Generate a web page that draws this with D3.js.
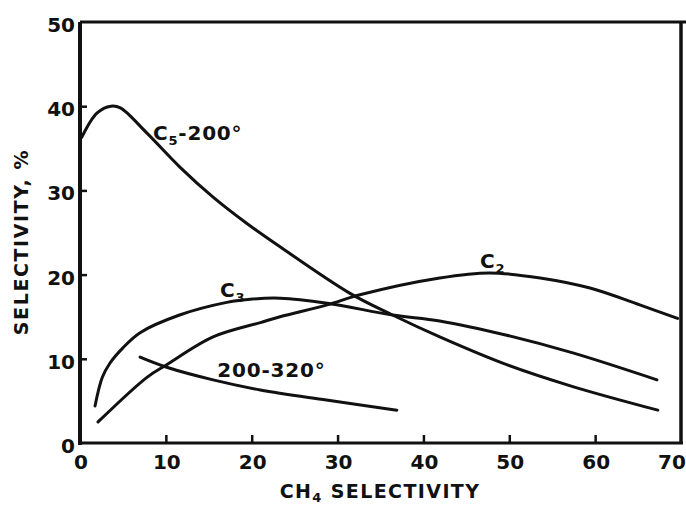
<!DOCTYPE html>
<html>
<head>
<meta charset="utf-8">
<script src="https://cdn.jsdelivr.net/npm/d3@7"></script>
<style>
  html, body { margin: 0; padding: 0; background: #fff; }
  svg { display: block; }
  text { font-family: "DejaVu Sans", sans-serif; font-weight: bold; fill: #111; }
</style>
</head>
<body>
<svg id="chart" width="686" height="506"></svg>
<script>
// CH4 selectivity (x) against product selectivity, % (y)
const xTicks = [0, 10, 20, 30, 40, 50, 60, 70];
const yTicks = [0, 10, 20, 30, 40, 50];

// C5–200° fraction
const c5X = [0.2, 2.0, 3.6, 4.7, 7.8, 11.6, 15.5, 19.4, 23.3, 31.4, 36.4, 41.9, 49.7, 57.4, 67.3];
const c5Y = [36.3, 39.2, 40.0, 39.8, 36.8, 32.8, 29.2, 26.1, 23.3, 17.8, 15.2, 12.6, 9.3, 6.7, 3.9];

// C3 hydrocarbons
const c3X = [1.75, 2.6, 3.5, 5.0, 7.0, 11.6, 17.1, 20.1, 23.3, 28.8, 36.4, 41.9, 49.7, 57.4, 67.2];
const c3Y = [4.4, 7.8, 9.5, 11.3, 13.1, 15.2, 16.7, 17.1, 17.2, 16.6, 15.2, 14.5, 12.8, 10.7, 7.5];

// C2 hydrocarbons
const c2X = [2.1, 7.8, 10.1, 15.5, 21.0, 23.3, 28.8, 32.6, 41.9, 47.7, 53.6, 59.4, 65.2, 69.6];
const c2Y = [2.5, 7.8, 9.3, 12.6, 14.3, 15.0, 16.4, 17.6, 19.6, 20.2, 19.6, 18.4, 16.4, 14.8];

// 200–320° fraction
const hX = [7.0, 10.1, 15.5, 21.0, 28.7, 36.9];
const hY = [10.2, 9.0, 7.5, 6.3, 5.1, 3.9];

const svg = d3.select("#chart");
const plotL = 80, plotR = 681, plotT = 22, plotB = 443;

const x = d3.scaleLinear().domain([0, 70]).range([plotL, plotR]);
const y = d3.scaleLinear().domain([0, 50]).range([plotB, plotT]);

// frame
const frame = svg.append("g").attr("stroke", "#111").attr("fill", "none");
frame.append("line").attr("x1", plotL).attr("x2", 686).attr("y1", plotT).attr("y2", plotT).attr("stroke-width", 3);
frame.append("line").attr("x1", plotR).attr("x2", plotR).attr("y1", plotT).attr("y2", plotB).attr("stroke-width", 3.5);
frame.append("line").attr("x1", plotL).attr("x2", plotL).attr("y1", plotT).attr("y2", plotB + 2).attr("stroke-width", 4);
frame.append("line").attr("x1", plotL - 2).attr("x2", plotR + 2).attr("y1", plotB).attr("y2", plotB).attr("stroke-width", 3);

// inward ticks
const xAxis = d3.axisTop(x).tickValues(xTicks.slice(1, -1)).tickSize(8).tickFormat("");
svg.append("g").attr("transform", `translate(0,${plotB})`).call(xAxis)
  .call(g => g.select(".domain").remove())
  .call(g => g.selectAll("line").attr("stroke", "#111").attr("stroke-width", 2.5));
const yAxis = d3.axisRight(y).tickValues(yTicks.slice(1, -1)).tickSize(7).tickFormat("");
svg.append("g").attr("transform", `translate(${plotL},0)`).call(yAxis)
  .call(g => g.select(".domain").remove())
  .call(g => g.selectAll("line").attr("stroke", "#111").attr("stroke-width", 2.5));

// tick labels
svg.append("g").selectAll("text").data(xTicks).join("text")
  .attr("x", d => Math.min(x(d) + 1, 672)).attr("y", 469)
  .attr("text-anchor", "middle").attr("font-size", 20)
  .text(d => d);
svg.append("g").selectAll("text").data(yTicks).join("text")
  .attr("x", 75).attr("y", d => y(d) + 10)
  .attr("text-anchor", "end").attr("font-size", 20)
  .text(d => d);

// axis titles
const xt = svg.append("text").attr("x", 380).attr("y", 498).attr("text-anchor", "middle")
  .attr("font-size", 19).attr("letter-spacing", 1.4);
xt.append("tspan").text("CH");
xt.append("tspan").attr("font-size", 13).attr("dy", 4).text("4");
xt.append("tspan").attr("dy", -4).text(" SELECTIVITY");

svg.append("text")
  .attr("transform", "translate(28,242) rotate(-90)")
  .attr("text-anchor", "middle").attr("font-size", 19).attr("letter-spacing", 1.6)
  .text("SELECTIVITY, %");

// curves
const line = d3.line().x(d => x(d[0])).y(d => y(d[1])).curve(d3.curveCatmullRom.alpha(0.5));
const series = [
  d3.zip(c5X, c5Y),
  d3.zip(c3X, c3Y),
  d3.zip(c2X, c2Y),
  d3.zip(hX, hY)
];
svg.append("g").selectAll("path").data(series).join("path")
  .attr("d", line)
  .attr("fill", "none").attr("stroke", "#111").attr("stroke-width", 3)
  .attr("stroke-linecap", "round").attr("stroke-linejoin", "round");

// curve labels
function label(xv, yv, base, sub, tail) {
  const t = svg.append("text").attr("x", x(xv)).attr("y", y(yv))
    .attr("font-size", 20).attr("letter-spacing", 0.8);
  t.append("tspan").text(base);
  if (sub) t.append("tspan").attr("font-size", 13).attr("dy", 5).text(sub);
  if (tail) t.append("tspan").attr("dy", sub ? -5 : 0).text(tail);
}
label(8.5, 36.0, "C", "5", "-200°");
label(16.3, 17.3, "C", "3", "");
label(46.6, 20.8, "C", "2", "");
label(16.0, 7.8, "200-320°", "", "");
</script>
</body>
</html>
